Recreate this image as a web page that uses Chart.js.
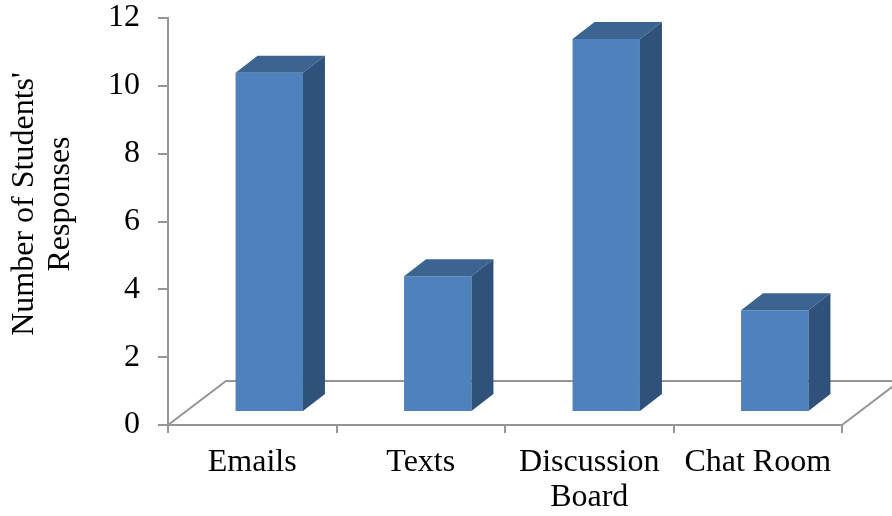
<!DOCTYPE html>
<html><head><meta charset="utf-8">
<script src="https://cdn.jsdelivr.net/npm/chart.js@4/dist/chart.umd.min.js"></script>
<style>html,body{margin:0;padding:0;background:#fff;overflow:hidden;}</style>
</head><body>
<canvas id="c" width="892" height="516"></canvas>
<script>
const categories = ["Emails", "Texts", ["Discussion", "Board"], "Chat Room"];
const responses = [10, 4, 11, 3];
const yTicks = [0, 2, 4, 6, 8, 10, 12];
const yTitle = ["Number of Students'", "Responses"];

const FONT = "'Liberation Serif', 'Times New Roman', serif";
const AXIS = '#959595';
const FRONT = '#4F81BD', TOP = '#3C6491', SIDE = '#30527A';
const SHIFT = {x: 17, y: -13};   // bar position inside the floor depth
const DEPTH = {x: 22, y: -17};   // bar depth
const FLOOR = {x: 58, y: -44};   // floor depth

const floorPlugin = {
  id: 'floor',
  beforeDatasetsDraw(chart) {
    const {ctx, chartArea: a} = chart;
    ctx.save();
    ctx.strokeStyle = AXIS; ctx.lineWidth = 2;
    ctx.beginPath();
    ctx.moveTo(a.left, a.bottom); ctx.lineTo(a.left + FLOOR.x, a.bottom + FLOOR.y);
    ctx.lineTo(chart.width + 60, a.bottom + FLOOR.y);
    ctx.moveTo(a.right, a.bottom); ctx.lineTo(a.right + FLOOR.x, a.bottom + FLOOR.y);
    ctx.stroke();
    ctx.restore();
  }
};

const bar3d = {
  id: 'bar3d',
  beforeDatasetDraw(chart) {
    chart.ctx.save();
    chart.ctx.translate(SHIFT.x, SHIFT.y);
  },
  afterDatasetDraw(chart, args) {
    const ctx = chart.ctx;
    args.meta.data.forEach(el => {
      const {x, y, base, width} = el.getProps(['x', 'y', 'base', 'width'], true);
      const l = x - width / 2, r = x + width / 2;
      ctx.fillStyle = TOP;
      ctx.beginPath();
      ctx.moveTo(l, y); ctx.lineTo(l + DEPTH.x, y + DEPTH.y);
      ctx.lineTo(r + DEPTH.x, y + DEPTH.y); ctx.lineTo(r, y); ctx.closePath(); ctx.fill();
      ctx.fillStyle = SIDE;
      ctx.beginPath();
      ctx.moveTo(r, y); ctx.lineTo(r + DEPTH.x, y + DEPTH.y);
      ctx.lineTo(r + DEPTH.x, base + DEPTH.y); ctx.lineTo(r, base); ctx.closePath(); ctx.fill();
    });
    ctx.restore();
  }
};

const titlePlugin = {
  id: 'ytitle',
  afterDraw(chart) {
    const ctx = chart.ctx;
    ctx.save();
    ctx.translate(25, 204);
    ctx.rotate(-Math.PI / 2);
    ctx.font = '32px ' + FONT;
    ctx.fillStyle = '#000';
    ctx.textAlign = 'center';
    ctx.textBaseline = 'middle';
    yTitle.forEach((t, i) => ctx.fillText(t, 0, i * 36));
    ctx.restore();
  }
};

new Chart(document.getElementById('c'), {
  type: 'bar',
  data: {
    labels: categories,
    datasets: [{
      data: responses,
      backgroundColor: FRONT,
      borderWidth: 0,
      barPercentage: 0.4,
      categoryPercentage: 1,
      clip: false
    }]
  },
  options: {
    responsive: false,
    animation: false,
    devicePixelRatio: 1,
    layout: {padding: {top: 18, right: 50, left: 0, bottom: 0}},
    plugins: {legend: {display: false}, tooltip: {enabled: false}},
    scales: {
      x: {
        offset: true,
        grid: {display: true, drawOnChartArea: false, drawTicks: true, tickLength: 8, color: AXIS, lineWidth: 2, offset: true},
        border: {display: true, color: AXIS, width: 2},
        ticks: {color: '#000', font: {family: FONT, size: 32, lineHeight: 1.1}, padding: 12, maxRotation: 0, autoSkip: false},
        afterFit(s) { s.height = 91; s.paddingLeft = 0; s.paddingRight = 0; }
      },
      y: {
        min: 0, max: 12,
        afterBuildTicks(s) { s.ticks = yTicks.map(v => ({value: v})); },
        grid: {display: true, drawOnChartArea: false, drawTicks: true, tickLength: 10, color: AXIS, lineWidth: 2},
        border: {display: true, color: AXIS, width: 2},
        ticks: {color: '#000', font: {family: FONT, size: 32, lineHeight: 1.1}, padding: 18},
        afterFit(s) { s.width = 168; s.paddingTop = 0; s.paddingBottom = 0; }
      }
    }
  },
  plugins: [floorPlugin, bar3d, titlePlugin]
});
</script>
</body></html>
